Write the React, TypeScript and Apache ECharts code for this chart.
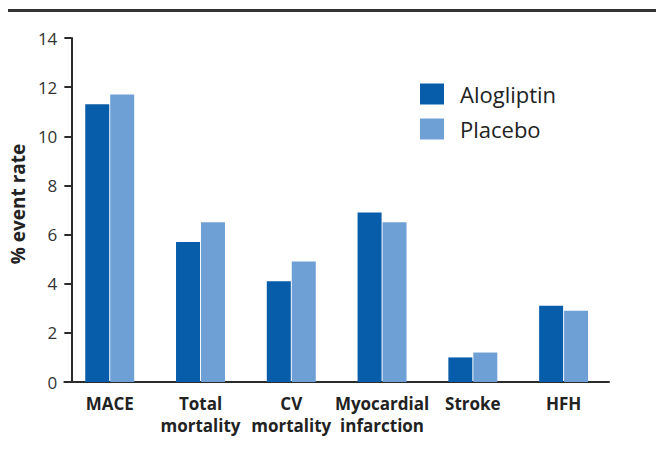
import React, { useEffect, useRef } from "react";
import * as echarts from "echarts";

const categories = ["MACE", "Total\nmortality", "CV\nmortality", "Myocardial\ninfarction", "Stroke", "HFH"];
const alogliptin = [11.3, 5.7, 4.1, 6.9, 1.0, 3.1];
const placebo = [11.7, 6.5, 4.9, 6.5, 1.2, 2.9];
const seriesNames = ["Alogliptin", "Placebo"];
const yAxisName = "% event rate";

const DARK = "#075DA9";
const LIGHT = "#6E9FD5";
const AXIS = "#2b2b2b";

export default function App() {
  const ref = useRef<HTMLDivElement>(null);
  useEffect(() => {
    if (!ref.current) return;
    const chart = echarts.init(ref.current, null, { renderer: "svg" });
    chart.setOption({
      animation: false,
      backgroundColor: "#ffffff",
      textStyle: { fontFamily: "Open Sans" },
      graphic: [
        { type: "rect", shape: { x: 8, y: 9, width: 648, height: 3 }, style: { fill: "#333333" } },
      ],
      legend: {
        orient: "vertical",
        left: 420,
        top: 83,
        itemWidth: 24,
        itemHeight: 21,
        itemGap: 13,
        padding: 0,
        icon: "rect",
        data: seriesNames,
        textStyle: { fontSize: 22, color: "#222222", padding: [0, 0, 0, 11], fontFamily: "Open Sans" },
      },
      grid: { left: 63, top: 38, width: 546, height: 344 },
      xAxis: {
        type: "category",
        data: categories,
        axisLine: { lineStyle: { color: AXIS, width: 2 } },
        axisTick: { alignWithLabel: true, length: 6, lineStyle: { color: AXIS, width: 2 } },
        axisLabel: {
          interval: 0,
          margin: 10,
          fontSize: 17,
          fontWeight: "bold",
          color: "#222222",
          lineHeight: 22,
          fontFamily: "Open Sans",
        },
      },
      yAxis: {
        type: "value",
        min: 0,
        max: 14,
        interval: 2,
        offset: -7,
        name: yAxisName,
        nameLocation: "middle",
        nameGap: 37,
        nameRotate: 90,
        nameTextStyle: {
          fontSize: 19,
          fontWeight: "bold",
          color: "#222222",
          fontFamily: "Open Sans",
          padding: [0, 0, 0, 12],
        },
        splitLine: { show: false },
        axisLine: { show: true, lineStyle: { color: AXIS, width: 2 } },
        axisTick: { show: true, length: 7, lineStyle: { color: AXIS, width: 2 } },
        axisLabel: { fontSize: 17, color: "#333333", margin: 14, fontFamily: "Open Sans" },
      },
      series: [
        { name: seriesNames[0], type: "bar", data: alogliptin, barWidth: 24, barGap: "4%", itemStyle: { color: DARK } },
        { name: seriesNames[1], type: "bar", data: placebo, barWidth: 24, itemStyle: { color: LIGHT } },
      ],
    });
    return () => chart.dispose();
  }, []);
  return <div ref={ref} style={{ position: "absolute", left: 0, top: 0, width: 656, height: 450 }} />;
}
